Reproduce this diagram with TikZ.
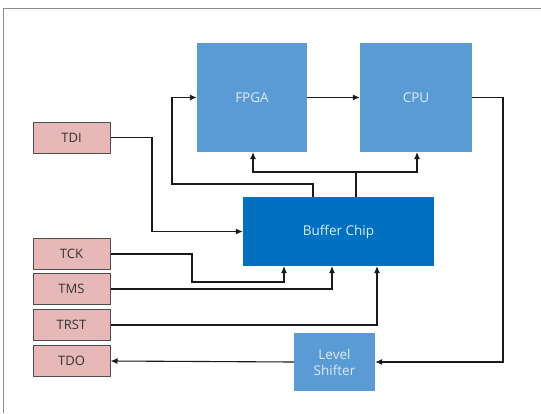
\documentclass[tikz,border=0pt]{standalone}
\usepackage{fontspec}
\setmainfont{Open Sans}
\usetikzlibrary{arrows.meta,calc}
\definecolor{midblue}{HTML}{5B9BD5}
\definecolor{deepblue}{HTML}{0070C0}
\definecolor{pinkfill}{HTML}{E6B9B8}
\definecolor{pinkedge}{HTML}{4D4D4D}
\definecolor{lighttext}{HTML}{DDEBF7}
\definecolor{wire}{HTML}{1A1A1A}
\begin{document}
\begin{tikzpicture}[x=1pt,y=-1pt,
  bluebox/.style={fill=midblue, draw=none, text=lighttext, font=\fontsize{13.5}{16}\selectfont, align=center, inner sep=0pt},
  chipbox/.style={fill=deepblue, draw=none, text=lighttext, font=\fontsize{13.5}{16}\selectfont, inner sep=0pt},
  pinbox/.style={fill=pinkfill, draw=pinkedge, line width=1pt, text=black!80, font=\fontsize{13}{15}\selectfont,
    minimum width=77pt, minimum height=31pt, inner sep=0pt},
  wireline/.style={draw=wire, line width=1.1pt},
  arrowline/.style={wireline, -{Latex[length=7pt,width=6pt]}}]
\useasboundingbox (0,0) rectangle (541,413);
\fill[white] (0,0) rectangle (541,413);
% outer frame
\draw[gray!90, line width=1pt] (541,8) -- (3,8) -- (3,413);

% main blocks
\node[bluebox, minimum width=110pt, minimum height=109pt] (FPGA) at (252,97.5) {FPGA};
\node[bluebox, minimum width=112pt, minimum height=109pt] (CPU) at (416,97.5) {CPU};
\node[chipbox, minimum width=191pt, minimum height=69pt] (Buf) at (338.5,231.5) {Buffer Chip};
\node[bluebox, minimum width=81pt, minimum height=58pt] (LS) at (334.5,362) {Level\\Shifter};

% JTAG pins
\node[pinbox] (TDI) at (71.5,137.5) {TDI};
\node[pinbox] (TCK) at (71.5,254) {TCK};
\node[pinbox] (TMS) at (71.5,289) {TMS};
\node[pinbox] (TRST) at (71.5,325) {TRST};
\node[pinbox] (TDO) at (71.5,361) {TDO};

% bend points
\coordinate (cpuR) at (503,97.5);
\coordinate (cpuD) at (503,362);
\coordinate (tdiA) at (152,137.5);
\coordinate (tdiB) at (152,231.5);
\coordinate (tckA) at (192,254);
\coordinate (tckB) at (192,282);
\coordinate (tckC) at (284,282);
\coordinate (tckD) at (284,266);
\coordinate (tmsA) at (332,289);
\coordinate (tmsB) at (332,266);
\coordinate (trstA) at (377,325);
\coordinate (trstB) at (377,266);
\coordinate (fbA) at (313,197);
\coordinate (fbB) at (313,184);
\coordinate (fbC) at (172,184);
\coordinate (fbD) at (172,97.5);
\coordinate (upA) at (356,197);
\coordinate (upB) at (356,172);
\coordinate (upL) at (253,172);
\coordinate (upR) at (417,172);
\coordinate (fpgaIn) at (253,152);
\coordinate (cpuIn) at (417,152);

% connectors
\draw[arrowline] (FPGA.east) -- (CPU.west);
\draw[arrowline] (CPU.east) -- (cpuR) -- (cpuD) -- (LS.east);
\draw[arrowline] (LS.west) -- (TDO.east);
\draw[arrowline] (TDI.east) -- (tdiA) -- (tdiB) -- (Buf.west);
\draw[arrowline] (TCK.east) -- (tckA) -- (tckB) -- (tckC) -- (tckD);
\draw[arrowline] (TMS.east) -- (tmsA) -- (tmsB);
\draw[arrowline] (TRST.east) -- (trstA) -- (trstB);
\draw[arrowline] (fbA) -- (fbB) -- (fbC) -- (fbD) -- (FPGA.west);
\draw[wireline] (upA) -- (upB);
\draw[arrowline] (upB) -- (upL) -- (fpgaIn);
\draw[arrowline] (upB) -- (upR) -- (cpuIn);
\end{tikzpicture}
\end{document}
